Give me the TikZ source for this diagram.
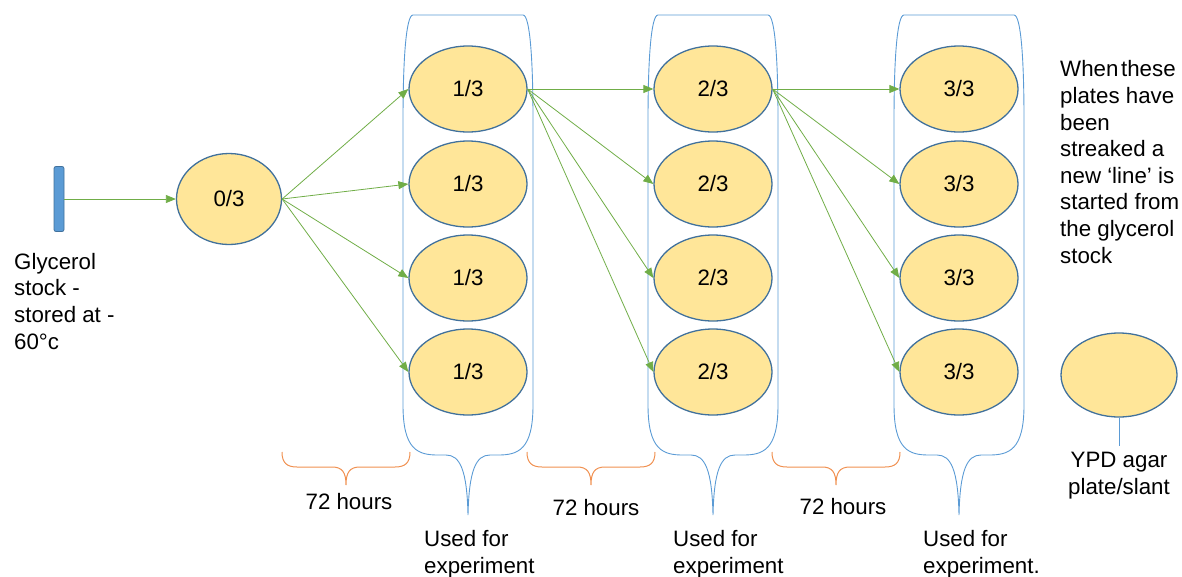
\documentclass[tikz,border=0pt]{standalone}
\usepackage{fontspec}
\setmainfont{Liberation Sans}
\usetikzlibrary{shapes.geometric,arrows.meta}
\definecolor{platefill}{HTML}{FFE699}
\definecolor{plateline}{HTML}{41719C}
\definecolor{arrgreen}{HTML}{70AD47}
\definecolor{boxblue}{HTML}{5B9BD5}
\definecolor{braceorange}{HTML}{ED7D31}
\tikzset{
  plate/.style={ellipse, draw=plateline, fill=platefill, line width=1.3pt,
    minimum width=118pt, minimum height=86pt, inner sep=0pt,
    font=\fontsize{22.3}{26}\selectfont},
  arr/.style={draw=arrgreen, line width=0.8pt, -{Triangle[length=10pt,width=8pt]}},
  holder/.style={draw=boxblue, line width=0.9pt},
  hbrace/.style={draw=braceorange!85, line width=1pt},
  lbl/.style={inner sep=0pt, align=left, font=\fontsize{22.3}{26.6}\selectfont},
}
\newcommand{\holderpath}[1]{%
  \draw[holder] (#1-55,15) -- (#1+55,15)
    .. controls (#1+62,15) and (#1+65,60) .. (#1+65,120) -- (#1+65,405)
    .. controls (#1+65,450) and (#1+50,455) .. (#1+30,455)
    -- (#1+22,455)
    .. controls (#1+8,455) and (#1+1,470) .. (#1,515)
    .. controls (#1-1,470) and (#1-8,455) .. (#1-22,455)
    -- (#1-30,455)
    .. controls (#1-50,455) and (#1-65,450) .. (#1-65,405)
    -- (#1-65,120)
    .. controls (#1-65,60) and (#1-62,15) .. (#1-55,15) -- cycle;}
\newcommand{\bracepath}[2]{%
  \draw[hbrace] (#1,452) .. controls (#1,463) and (#1+5,467) .. (#1+15,467)
    -- ({(#1+#2)/2-14},467)
    .. controls ({(#1+#2)/2-4},467) and ({(#1+#2)/2},472) .. ({(#1+#2)/2},485)
    .. controls ({(#1+#2)/2},472) and ({(#1+#2)/2+4},467) .. ({(#1+#2)/2+14},467)
    -- (#2-15,467)
    .. controls (#2-5,467) and (#2,463) .. (#2,452);}
\begin{document}
\begin{tikzpicture}[x=1pt,y=-1pt]
\useasboundingbox (0,0) rectangle (1182,576);
% holders
\holderpath{468}
\holderpath{713}
\holderpath{959}
% braces
\bracepath{282}{410}
\bracepath{527}{655}
\bracepath{772}{900}
% glycerol stock bar
\node[draw=plateline, fill=boxblue, rounded corners=2pt, line width=0.8pt,
  minimum width=10pt, minimum height=65pt, inner sep=0pt] (g) at (59,199) {};
\node[plate, minimum width=105pt, minimum height=91pt] (p0) at (229,199) {0/3};
% columns
\foreach \r/\y in {1/89,2/184,3/278,4/372}{
  \node[plate] (a\r) at (468,\y) {1/3};
  \node[plate] (b\r) at (713,\y) {2/3};
  \node[plate] (c\r) at (959,\y) {3/3};
}
% legend plate
\node[plate, minimum width=116pt, minimum height=84pt] (ypd) at (1119,375) {};
\coordinate (ypdline) at (1119,446);
\draw[boxblue, line width=0.9pt] (ypd.south) -- (ypdline);
% arrows
\draw[arr] (g.east) -- (p0.west);
\foreach \r in {1,2,3,4}{
  \draw[arr] (p0.east) -- (a\r.west);
  \draw[arr] (a1.east) -- (b\r.west);
  \draw[arr] (b1.east) -- (c\r.west);
}
% texts (base anchor = baseline of last line)
\node[lbl, anchor=base west] (tg) at (14,349) {Glycerol\\stock -\\stored at -\\60°c};
\node[lbl, anchor=base west] (tw) at (1060,263) {When\hspace{0.12em}these\\plates have\\been\\streaked a\\new ‘line’ is\\started from\\the glycerol\\stock};
\node[lbl, anchor=base] (h1) at (349,509) {72 hours};
\node[lbl, anchor=base] (h2) at (596,515) {72 hours};
\node[lbl, anchor=base] (h3) at (843,514) {72 hours};
\node[lbl, anchor=base west] (u1) at (424,573) {Used for\\experiment};
\node[lbl, anchor=base west] (u2) at (673,573) {Used for\\experiment};
\node[lbl, anchor=base west] (u3) at (923,573) {Used for\\experiment.};
\node[lbl, align=center, anchor=base] (ty) at (1119,494) {YPD agar\\plate/slant};
\end{tikzpicture}
\end{document}
